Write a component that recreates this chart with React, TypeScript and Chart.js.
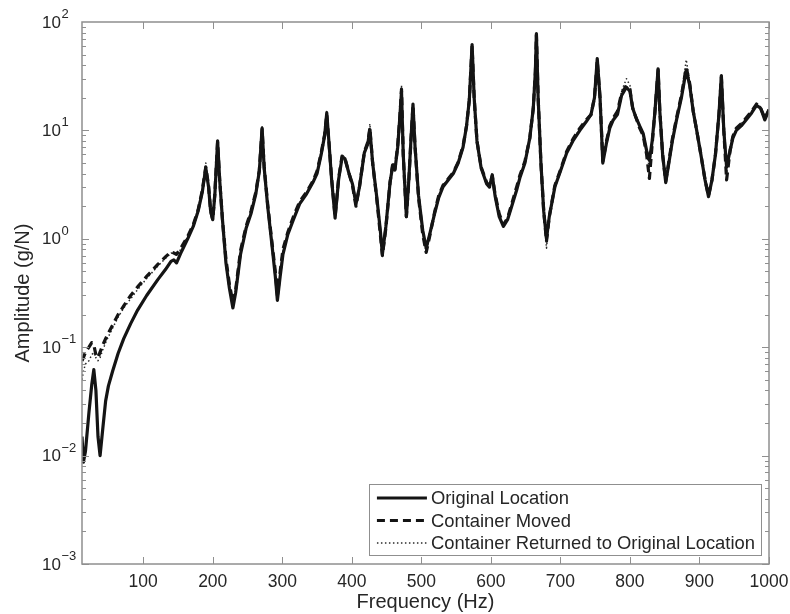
import React, { useEffect, useRef } from 'react';
import { Chart, registerables } from 'chart.js';

Chart.register(...registerables);

// Frequency (Hz) sample points shared by the three measurements
const FREQ = [
  12, 14, 17, 22, 26, 29, 32, 35, 38, 42,
  46, 50, 56, 64, 72, 82, 92, 105, 121, 132,
  140, 144, 148, 155, 164, 172, 179, 185, 190, 194,
  197, 200, 203, 207, 210, 214, 219, 224, 229, 233,
  240, 248, 255, 262, 267, 271, 274, 279, 285, 290,
  293, 297, 301, 308, 316, 325, 335, 344, 350, 356,
  361, 364, 367, 371, 376, 381, 386, 390, 396, 401,
  406, 411, 418, 423, 426, 430, 436, 441, 444, 449,
  455, 459, 462, 466, 469, 471.5, 474, 478.5, 482, 485,
  488, 491, 496, 502, 507, 512, 519, 525, 531, 539,
  546, 553, 560, 565, 569, 573, 576, 580, 586, 594,
  598, 602, 606, 612, 618, 624, 630, 637, 642, 649,
  656, 661, 664, 665.5, 668, 672, 676, 680, 684, 692,
  700, 709, 718, 728, 737, 744, 749, 753, 757, 761,
  766, 771, 776, 782, 788, 795, 800, 804, 808, 814,
  819, 824, 828, 832, 836, 840.5, 843, 847, 851.5, 856,
  861, 867, 874, 881, 886, 891, 896, 902, 908, 913,
  918, 923, 928, 931.5, 935, 939, 944, 948, 953, 960,
  967, 975, 982, 988, 994, 1000,
];

// Amplitude (g/N) – Original Location
const ORIGINAL = [
  0.015, 0.0087, 0.011, 0.025, 0.045, 0.062, 0.040, 0.015, 0.010, 0.018,
  0.032, 0.044, 0.060, 0.088, 0.12, 0.165, 0.22, 0.30, 0.42, 0.52,
  0.62, 0.64, 0.60, 0.76, 1.0, 1.3, 1.8, 2.7, 4.5, 3.0,
  1.8, 1.5, 2.5, 8.0, 3.5, 1.5, 0.6, 0.35, 0.23, 0.32,
  0.72, 1.25, 1.7, 2.6, 4.2, 10.5, 4.5, 2.0, 0.9, 0.45,
  0.27, 0.45, 0.72, 1.1, 1.5, 2.1, 2.6, 3.3, 4.0, 6.0,
  9.0, 14.5, 8.0, 3.5, 1.55, 3.5, 5.6, 5.5, 4.0, 3.2,
  2.1, 3.0, 6.2, 7.5, 10.2, 5.0, 2.4, 1.2, 0.72, 1.3,
  3.3, 4.8, 4.3, 7.0, 13, 23, 6.0, 1.6, 3.5, 8.0,
  17.5, 7.0, 2.5, 1.2, 0.82, 1.1, 1.7, 2.4, 3.0, 3.5,
  4.0, 5.0, 7.0, 11, 19, 62, 20, 8.0, 4.5, 3.2,
  3.0, 3.9, 2.5, 1.6, 1.3, 1.5, 2.0, 2.8, 3.7, 5.0,
  8.5, 16, 35, 78, 20, 5.0, 1.8, 1.0, 1.6, 3.0,
  4.2, 6.2, 8.0, 10, 12, 14, 20, 46, 20, 5.0,
  7.5, 10.5, 12.5, 14, 21, 25, 23, 16, 13.5, 11,
  9.4, 6.5, 5.3, 8.0, 15, 37, 15, 6.0, 3.3, 5.0,
  8.0, 12.5, 20, 36, 26, 15, 10, 6.0, 3.5, 2.45,
  3.5, 6.0, 14, 32, 10, 4.6, 6.5, 8.5, 10, 11,
  12.5, 14.5, 17, 16, 12.5, 15.5,
];

// Amplitude (g/N) – Container Moved
const MOVED = [
  0.075, 0.08, 0.09, 0.10, 0.11, 0.105, 0.085, 0.08, 0.09, 0.105,
  0.12, 0.135, 0.16, 0.20, 0.24, 0.30, 0.36, 0.45, 0.58, 0.68,
  0.76, 0.74, 0.72, 0.84, 1.05, 1.35, 1.85, 2.8, 4.6, 3.1,
  1.8, 1.5, 2.6, 7.8, 3.5, 1.5, 0.65, 0.38, 0.26, 0.34,
  0.78, 1.3, 1.8, 2.7, 4.3, 10.2, 4.6, 2.1, 0.95, 0.5,
  0.3, 0.5, 0.8, 1.15, 1.6, 2.2, 2.7, 3.4, 4.2, 6.2,
  9.2, 14.0, 8.0, 3.6, 1.6, 3.6, 5.8, 5.6, 4.0, 3.1,
  2.0, 3.0, 6.3, 7.8, 10.5, 5.0, 2.3, 1.1, 0.7, 1.25,
  3.3, 5.0, 4.4, 7.2, 13, 24, 6.0, 1.6, 3.4, 8.0,
  17, 7.0, 2.4, 1.1, 0.75, 1.05, 1.75, 2.5, 3.1, 3.6,
  4.1, 5.1, 7.2, 11, 19, 60, 20, 8.0, 4.6, 3.3,
  3.1, 3.8, 2.6, 1.7, 1.35, 1.55, 2.1, 3.0, 3.9, 5.2,
  8.5, 16, 34, 76, 20, 5.0, 1.8, 0.95, 1.6, 3.1,
  4.3, 6.4, 8.3, 10.5, 12.5, 14, 20, 44, 20, 5.2,
  7.8, 11, 13, 15, 22, 26, 24, 16, 13.5, 10.5,
  9.0, 6.0, 3.6, 7.5, 15, 36, 15, 6.0, 3.4, 5.2,
  8.3, 13, 21, 38, 27, 15, 10, 6.0, 3.5, 2.5,
  3.5, 6.0, 14, 31, 10, 3.5, 6.5, 8.8, 10.5, 11.5,
  13, 15, 17.5, 16, 13, 15.5,
];

// Amplitude (g/N) – Container Returned to Original Location
const RETURNED = [
  0.05, 0.06, 0.07, 0.075, 0.085, 0.09, 0.08, 0.075, 0.08, 0.095,
  0.11, 0.125, 0.15, 0.19, 0.23, 0.28, 0.34, 0.43, 0.56, 0.66,
  0.74, 0.73, 0.70, 0.82, 1.05, 1.35, 1.9, 2.9, 5.0, 3.1,
  1.8, 1.55, 2.6, 8.2, 3.6, 1.5, 0.62, 0.36, 0.25, 0.33,
  0.76, 1.3, 1.75, 2.7, 4.4, 10.8, 4.6, 2.05, 0.92, 0.47,
  0.28, 0.48, 0.76, 1.12, 1.55, 2.15, 2.7, 3.4, 4.1, 6.3,
  9.5, 15.5, 8.2, 3.6, 1.6, 3.6, 5.8, 5.7, 4.1, 3.2,
  2.05, 3.1, 6.4, 7.8, 11.5, 5.1, 2.4, 1.15, 0.7, 1.3,
  3.4, 5.0, 4.5, 7.3, 13.5, 26, 6.2, 1.65, 3.5, 8.3,
  18, 7.1, 2.5, 1.15, 0.75, 1.1, 1.75, 2.5, 3.1, 3.6,
  4.1, 5.1, 7.1, 11.5, 19.5, 60, 20, 8.1, 4.6, 3.3,
  3.1, 3.9, 2.6, 1.65, 1.3, 1.5, 2.05, 2.9, 3.8, 5.1,
  8.7, 16.5, 36, 77, 20, 5.0, 1.8, 0.82, 1.6, 3.1,
  4.3, 6.4, 8.2, 10.3, 12.3, 14.5, 21, 45, 20, 5.1,
  7.6, 10.8, 13, 15, 23, 30, 26, 16.5, 14, 11,
  9.2, 6.2, 4.5, 8.0, 15.5, 38, 15, 6.0, 3.3, 5.1,
  8.2, 13, 21, 45, 28, 15.5, 10, 6.0, 3.5, 2.5,
  3.5, 6.1, 14.5, 33, 10, 4.0, 6.6, 8.8, 10.5, 11.5,
  13, 15, 17.5, 16.5, 13, 15.5,
];

const SERIES_LABELS = [
  'Original Location',
  'Container Moved',
  'Container Returned to Original Location',
];

const X_TICKS = [100, 200, 300, 400, 500, 600, 700, 800, 900, 1000];
const Y_EXPONENTS = [-3, -2, -1, 0, 1, 2];

const X_TITLE = 'Frequency (Hz)';
const Y_TITLE = 'Amplitude (g/N)';

const FONT = '"Liberation Sans", Arial, Helvetica, sans-serif';
const TEXT = '#262626';
const FRAME = '#8f8f8f';
const LINE = '#141414';

const STYLES = [
  { width: 3.2, dash: [] as number[], color: LINE },
  { width: 3.2, dash: [8, 5], color: LINE },
  { width: 1.5, dash: [1.5, 2.5], color: '#2a2a2a' },
];

const framePlugin = {
  id: 'matlabFrame',
  afterDraw(chart: any) {
    const { ctx, chartArea: a, scales } = chart;
    const xs = scales.x;
    const ys = scales.y;
    ctx.save();

    // frame
    ctx.strokeStyle = FRAME;
    ctx.lineWidth = 1.5;
    ctx.setLineDash([]);
    ctx.strokeRect(a.left, a.top, a.right - a.left, a.bottom - a.top);

    // inward ticks
    ctx.lineWidth = 1;
    ctx.beginPath();
    for (const v of X_TICKS) {
      const px = Math.round(xs.getPixelForValue(v)) + 0.5;
      ctx.moveTo(px, a.bottom);
      ctx.lineTo(px, a.bottom - 7);
      ctx.moveTo(px, a.top);
      ctx.lineTo(px, a.top + 7);
    }
    for (let k = Y_EXPONENTS[0]; k < Y_EXPONENTS[Y_EXPONENTS.length - 1]; k++) {
      for (let m = 1; m < 10; m++) {
        const v = m * Math.pow(10, k);
        const py = Math.round(ys.getPixelForValue(v)) + 0.5;
        const len = m === 1 ? 7 : 4;
        ctx.moveTo(a.left, py);
        ctx.lineTo(a.left + len, py);
        ctx.moveTo(a.right, py);
        ctx.lineTo(a.right - len, py);
      }
    }
    ctx.stroke();

    // y tick labels 10^k
    ctx.fillStyle = TEXT;
    for (const k of Y_EXPONENTS) {
      const py = ys.getPixelForValue(Math.pow(10, k));
      const baseX = a.left - 21;
      ctx.font = `17px ${FONT}`;
      ctx.textAlign = 'right';
      ctx.textBaseline = 'middle';
      ctx.fillText('10', baseX, py + 1);
      ctx.font = `13px ${FONT}`;
      ctx.textAlign = 'left';
      ctx.textBaseline = 'alphabetic';
      const exp = k < 0 ? '\u2212' + String(-k) : String(k);
      ctx.fillText(exp, baseX + 0.5, py - 4);
    }

    // legend box
    const fontSize = 18.4;
    ctx.font = `${fontSize}px ${FONT}`;
    let tw = 0;
    for (const s of SERIES_LABELS) tw = Math.max(tw, ctx.measureText(s).width);
    const right = a.right - 8;
    const bottom = a.bottom - 9;
    const boxW = 62 + tw + 6;
    const boxH = 71;
    const left = right - boxW;
    const top = bottom - boxH;
    ctx.fillStyle = '#ffffff';
    ctx.fillRect(left, top, boxW, boxH);
    ctx.strokeStyle = FRAME;
    ctx.lineWidth = 1;
    ctx.strokeRect(Math.round(left) + 0.5, Math.round(top) + 0.5, Math.round(boxW), Math.round(boxH));
    SERIES_LABELS.forEach((label, i) => {
      const cy = top + 14 + i * 22.5;
      const st = STYLES[i];
      ctx.strokeStyle = st.color;
      ctx.lineWidth = st.width;
      ctx.setLineDash(st.dash);
      ctx.beginPath();
      ctx.moveTo(left + 8, cy);
      ctx.lineTo(left + 58, cy);
      ctx.stroke();
      ctx.setLineDash([]);
      ctx.fillStyle = TEXT;
      ctx.textAlign = 'left';
      ctx.textBaseline = 'middle';
      ctx.font = `${fontSize}px ${FONT}`;
      ctx.fillText(label, left + 62, cy + 1);
    });

    ctx.restore();
  },
};

export default function App() {
  const ref = useRef<HTMLCanvasElement | null>(null);

  useEffect(() => {
    const canvas = ref.current;
    if (!canvas) return;
    const series = [ORIGINAL, MOVED, RETURNED];
    const chart = new Chart(canvas, {
      type: 'line',
      data: {
        datasets: series.map((vals, i) => ({
          label: SERIES_LABELS[i],
          data: FREQ.map((f, j) => ({ x: f, y: vals[j] })),
          borderColor: STYLES[i].color,
          borderWidth: STYLES[i].width,
          borderDash: STYLES[i].dash,
          borderJoinStyle: 'round' as const,
          pointRadius: 0,
          tension: 0,
          fill: false,
        })),
      },
      options: {
        responsive: false,
        animation: false,
        events: [],
        layout: { padding: { left: 0, right: 21, top: 22, bottom: 0 } },
        plugins: {
          legend: { display: false },
          tooltip: { enabled: false },
        },
        scales: {
          x: {
            type: 'linear',
            min: 12,
            max: 1000,
            grid: { display: false },
            border: { display: false },
            afterBuildTicks: (s: any) => {
              s.ticks = X_TICKS.map((v) => ({ value: v }));
            },
            ticks: {
              font: { family: FONT, size: 17.5 },
              color: TEXT,
              padding: 0,
              maxRotation: 0,
              autoSkip: false,
              callback: (v: any) => String(v),
            },
            title: {
              display: true,
              text: X_TITLE,
              font: { family: FONT, size: 20 },
              color: TEXT,
              padding: { top: 0, bottom: 0 },
            },
            afterFit: (s: any) => {
              s.height = 50;
            },
          },
          y: {
            type: 'logarithmic',
            min: 1e-3,
            max: 100,
            grid: { display: false },
            border: { display: false },
            ticks: { display: false },
            title: {
              display: true,
              text: Y_TITLE,
              font: { family: FONT, size: 20 },
              color: TEXT,
              padding: { top: 11, bottom: 0 },
            },
            afterFit: (s: any) => {
              s.width = 82;
            },
          },
        },
      },
      plugins: [framePlugin],
    } as any);
    return () => chart.destroy();
  }, []);

  return (
    <div style={{ position: 'absolute', left: 0, top: 0, width: 790, height: 614, background: '#fff' }}>
      <canvas ref={ref} width={790} height={614} />
    </div>
  );
}
